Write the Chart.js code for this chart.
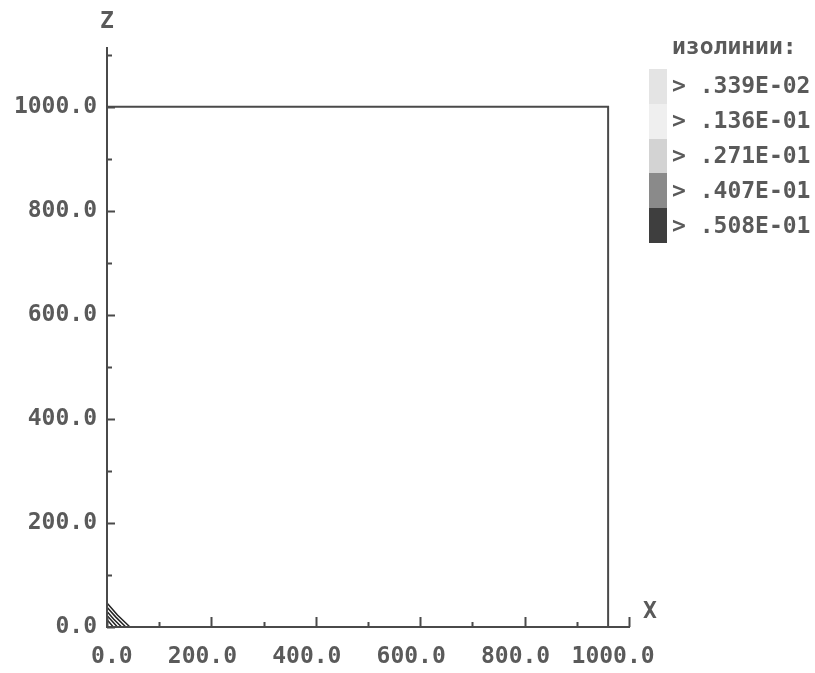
<!DOCTYPE html>
<html>
<head>
<meta charset="utf-8">
<title>изолинии</title>
<script src="https://cdn.jsdelivr.net/npm/chart.js"></script>
<style>
  html, body { margin: 0; padding: 0; background: #fff; }
  #wrap { position: relative; width: 815px; height: 673px; }
</style>
</head>
<body>
<div id="wrap"><canvas id="isoChart"></canvas></div>
<script>
  // axes
  const xMin = 0, xMax = 1000, xStep = 100;
  const zMin = 0, zMax = 1113, zStep = 100;
  const labelStep = 200;

  // outline of the computational domain
  const domainX = [0, 0, 960, 960, 0];
  const domainZ = [0, 1000, 1000, 0, 0];

  // isoline levels (legend)
  const levelNames = ['.339E-02', '.136E-01', '.271E-01', '.407E-01', '.508E-01'];
  const levelFill = ['#e4e4e4', '#efefef', '#d3d3d3', '#8a8a8a', '#3e3e3e'];

  // isolines near the corner, outer to inner
  const iso1X = [0, 20, 44], iso1Z = [46, 23, 0];
  const iso2X = [0, 17, 36], iso2Z = [38, 19, 0];
  const iso3X = [0, 13, 28], iso3Z = [30, 15, 0];
  const iso4X = [0, 10, 20], iso4Z = [22, 11, 0];
  const iso5X = [0, 6, 12],  iso5Z = [14, 7, 0];

  const FONT = 'DejaVu Sans Mono';
  const INK = '#4a4a4a';
  const TXT = '#5a5a5a';

  const pts = (xs, zs) => xs.map((x, i) => ({ x: x, y: zs[i] }));

  const isoLine = (xs, zs) => ({
    data: pts(xs, zs),
    showLine: true,
    pointRadius: 0,
    borderColor: '#222',
    borderWidth: 1.5,
    clip: false
  });

  // inward tick marks, longer on labelled values
  const tickMarks = {
    id: 'tickMarks',
    afterDatasetsDraw(chart) {
      const ctx = chart.ctx;
      const xs = chart.scales.x, ys = chart.scales.y;
      ctx.save();
      ctx.strokeStyle = INK;
      ctx.lineWidth = 2;
      ctx.beginPath();
      xs.ticks.forEach(t => {
        const px = Math.round(xs.getPixelForValue(t.value)) + 0.5;
        const len = t.value % labelStep === 0 ? 10 : 5;
        ctx.moveTo(px, ys.bottom);
        ctx.lineTo(px, ys.bottom - len);
      });
      ys.ticks.forEach(t => {
        const py = Math.round(ys.getPixelForValue(t.value)) + 0.5;
        const len = t.value % labelStep === 0 ? 8 : 5;
        ctx.moveTo(xs.left, py);
        ctx.lineTo(xs.left + len, py);
      });
      ctx.stroke();
      ctx.restore();
    }
  };

  // axis names and the isoline legend
  const annotations = {
    id: 'annotations',
    afterDraw(chart) {
      const ctx = chart.ctx;
      const xs = chart.scales.x, ys = chart.scales.y;
      ctx.save();
      ctx.font = 'bold 23px "' + FONT + '"';
      ctx.fillStyle = TXT;
      ctx.textAlign = 'center';
      ctx.textBaseline = 'middle';
      ctx.fillText('Z', xs.left, 22);
      ctx.fillText('X', xs.right + 21, ys.bottom - 15);

      ctx.textAlign = 'left';
      ctx.fillText('изолинии:', 672, 48);
      const boxTop = 69, boxH = 34.8;
      levelNames.forEach((name, i) => {
        const top = boxTop + i * boxH;
        ctx.fillStyle = levelFill[i];
        ctx.fillRect(649, Math.round(top), 18, Math.round(top + boxH) - Math.round(top));
        ctx.fillStyle = TXT;
        ctx.fillText('> ' + name, 672, top + boxH / 2 + 1);
      });
      ctx.restore();
    }
  };

  new Chart(document.getElementById('isoChart'), {
    type: 'scatter',
    data: {
      datasets: [
        {
          data: pts(domainX, domainZ),
          showLine: true,
          pointRadius: 0,
          borderColor: INK,
          borderWidth: 2,
          clip: false
        },
        isoLine(iso1X, iso1Z),
        isoLine(iso2X, iso2Z),
        isoLine(iso3X, iso3Z),
        isoLine(iso4X, iso4Z),
        isoLine(iso5X, iso5Z)
      ]
    },
    options: {
      responsive: true,
      maintainAspectRatio: false,
      animation: false,
      layout: { padding: { top: 48, right: 186, left: 0, bottom: 0 } },
      plugins: { legend: { display: false }, tooltip: { enabled: false } },
      scales: {
        x: {
          type: 'linear',
          min: xMin,
          max: xMax,
          afterFit: s => { s.height = 46; },
          grid: { display: false, drawTicks: false },
          border: { display: true, color: INK, width: 2 },
          ticks: {
            stepSize: xStep,
            includeBounds: false,
            autoSkip: false,
            maxRotation: 0,
            padding: 16,
            labelOffset: -9,
            color: TXT,
            font: { family: FONT, size: 23, weight: 'bold' },
            callback: v => {
              if (v % labelStep !== 0) return '';
              const s = v.toFixed(1);
              if (v === xMin) return '  ' + s;
              if (v === xMax) return s + ' ';
              return s;
            }
          }
        },
        y: {
          type: 'linear',
          min: zMin,
          max: zMax,
          afterFit: s => { s.width = 107; },
          grid: { display: false, drawTicks: false },
          border: { display: true, color: INK, width: 2 },
          ticks: {
            stepSize: zStep,
            includeBounds: false,
            autoSkip: false,
            padding: 10,
            color: TXT,
            font: { family: FONT, size: 23, weight: 'bold' },
            callback: v => (v % labelStep === 0 && v <= 1000) ? v.toFixed(1) : ''
          }
        }
      }
    },
    plugins: [tickMarks, annotations]
  });
</script>
</body>
</html>
